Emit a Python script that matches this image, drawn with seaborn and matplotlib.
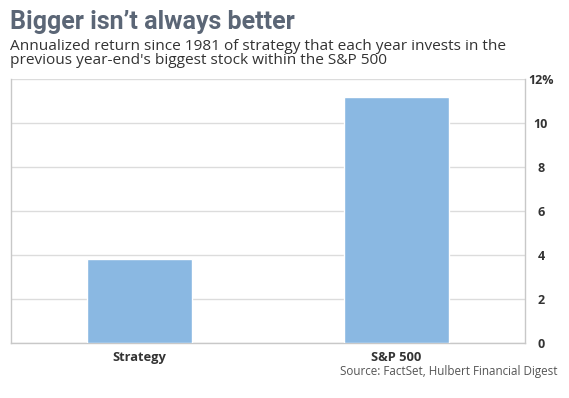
import matplotlib
matplotlib.use("Agg")
import matplotlib.pyplot as plt
import seaborn as sns
import pandas as pd

# ---- data ----
categories = ["Strategy", "S&P 500"]
returns = [3.8, 11.2]
y_ticks = [0, 2, 4, 6, 8, 10, 12]
y_tick_labels = ["0", "2", "4", "6", "8", "10", "12%"]

TITLE = "Bigger isn\u2019t always better"
SUBTITLE = ("Annualized return since 1981 of strategy that each year invests in the\n"
            "previous year-end's biggest stock within the S&P 500")
SOURCE = "Source: FactSet, Hulbert Financial Digest"

df = pd.DataFrame({"category": categories, "ret": returns})

sns.set_theme(style="white")
plt.rcParams["font.family"] = ["Open Sans", "DejaVu Sans"]

fig = plt.figure(figsize=(5.69, 3.98), dpi=100)
ax = fig.add_axes([11 / 569, 1 - 343 / 398, (525 - 11) / 569, (343 - 79) / 398])

sns.barplot(data=df, x="category", y="ret", color="#8ab8e2", width=0.405,
            saturation=1, ax=ax, zorder=3)

ax.set_xlim(-0.5, 1.5)
ax.set_ylim(0, 12)
ax.set_yticks(y_ticks)
ax.set_yticklabels(y_tick_labels)
ax.yaxis.tick_right()
ax.grid(axis="y", color="#dcdcdc", linewidth=1, zorder=0)
ax.set_xlabel("")
ax.set_ylabel("")

for side in ["left", "right", "bottom"]:
    ax.spines[side].set_color("#c8c8c8")
    ax.spines[side].set_linewidth(1)
ax.spines["top"].set_visible(False)

ax.tick_params(axis="y", length=0, pad=11.5, labelsize=9, labelcolor="#333333")
ax.tick_params(axis="x", length=0, pad=6, labelsize=9.3, labelcolor="#333333")
for lbl in ax.get_yticklabels():
    lbl.set_fontweight("bold")
    lbl.set_horizontalalignment("center")
for lbl in ax.get_xticklabels():
    lbl.set_fontweight("bold")

fig.text(10 / 569, 1 - 10 / 398, TITLE, fontsize=18, fontweight="bold",
         color="#5b6676", family=["Roboto", "DejaVu Sans"], va="top", ha="left")
fig.text(10 / 569, 1 - 39 / 398, SUBTITLE, fontsize=11.1, color="#333333",
         va="top", ha="left", linespacing=0.95)
fig.text(558 / 569, 1 - 365 / 398, SOURCE, fontsize=8.4, color="#555555",
         va="top", ha="right")

fig.savefig("out.png", dpi=100)
